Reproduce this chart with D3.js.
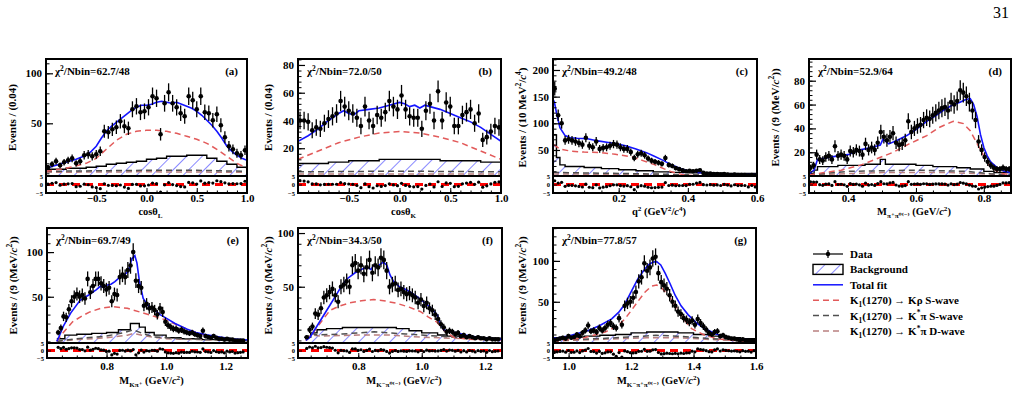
<!DOCTYPE html>
<html>
<head>
<meta charset="utf-8">
<script src="https://cdn.jsdelivr.net/npm/d3@7"></script>
<style>
  body { margin: 0; background: #fff; }
  svg text { font-family: "Liberation Serif", "Tinos", "Times New Roman", "Times", "Nimbus Roman", "DejaVu Serif", serif; font-weight: bold; }
</style>
</head>
<body>
<svg id="fig" width="1018" height="404"></svg>
<script>
// ---- data ----
// bin layout (first bin centre, bin width) for panels a..g
let firstBin = [-0.98, -0.98, 0.015, 0.2895, 0.6375, 0.6375, 0.9545]
let binWidth = [0.04, 0.04, 0.01, 0.009, 0.009, 0.009, 0.009]

let aCounts = [6,9,12,8,11,13,15,10,12,18, 19,17,19,22,42,41,44,46,52,47, 45,64,67,61,62,66,77,75,39,70, 81,70,66,60,57,77,73,64,77,61, 60,53,59,48,36,27,24,20,18,23]
let bCounts = [40,40,39,33,35,34,38,41,43,45, 54,50,47,45,42,36,50,40,36,44, 42,46,54,50,48,58,48,43,42,42, 34,47,52,40,61,40,53,50,36,36, 44,46,48,38,45,26,28,32,36,35]
let cCounts = [165,115,100,68,70,68,66,63,60,73, 58,55,66,52,54,55,58,61,60,55, 52,52,46,35,42,44,40,34,30,28, 26,24,35,22,20,16,14,12,10,11, 10,11,12,7,6,6,5,5,4,5, 4,3,4,3,3,3,2,3,2]
let dCounts = [7,9,18,14,13,16,17,14,25,17, 18,17,14,21,20,22,21,18,27,22, 24,22,28,37,33,30,33,36,28,26, 27,30,46,37,40,42,43,47,49,48, 51,53,55,57,58,55,62,60,63,72, 70,67,62,55,47,29,22,16,12,9, 7,6,6,7,6,6]
let eCounts = [10,15,28,27,36,45,50,53,50,52, 48,70,55,62,70,70,65,62,58,60, 45,53,52,72,75,72,80,85,100,68, 62,60,40,42,37,38,35,30,37,33, 22,18,16,14,14,12,13,11,10,9, 10,8,7,6,12,6,5,4,6,4, 3,3,2,3,2,2,1,1,1,1]
let fCounts = [3,10,13,25,24,30,40,42,45,48, 42,36,50,52,55,50,70,72,65,70, 62,68,75,63,70,68,77,75,65,50, 52,53,47,48,45,43,44,42,40,35, 38,32,35,30,28,24,20,15,12,8, 9,8,6,7,4,5,3,4,3,2, 3,2,2,1,2,1,1,1]
let gCounts = [3,4,5,6,5,8,6,7,10,8, 12,15,21,14,15,13,18,15,18,22, 24,20,18,30,22,45,48,50,55,62, 75,80,97,88,92,103,105,85,74,70, 66,58,50,45,38,35,30,28,25,27, 22,29,24,20,16,12,10,13,14,8, 9,7,6,5,5,4,3,4,3,3, 2,3]

// total fit
let aFit = [[-1,5],[-0.9,8],[-0.8,11],[-0.7,14],[-0.6,18],[-0.55,22],[-0.5,27],[-0.45,35],[-0.4,42],[-0.35,47],[-0.3,51],[-0.25,55],[-0.2,59],[-0.15,63],[-0.1,66],[-0.05,68],[0,68],[0.05,69],[0.1,71],[0.15,72],[0.2,71],[0.25,70],[0.3,71],[0.35,69],[0.4,67],[0.45,65],[0.5,62],[0.55,58],[0.6,53],[0.65,48],[0.7,42],[0.75,35],[0.8,27],[0.85,22],[0.9,18],[0.95,15],[1,13]]
let bFit = [[-1,25],[-0.9,29],[-0.8,34],[-0.7,40],[-0.6,45],[-0.55,47],[-0.5,45],[-0.45,44],[-0.4,47],[-0.3,48],[-0.2,49],[-0.1,51],[0,53],[0.05,52],[0.1,50],[0.15,51],[0.2,49],[0.25,51],[0.3,50],[0.4,48],[0.5,45],[0.6,42],[0.7,39],[0.8,35],[0.9,30],[1,25]]
let cFit = [[0.01,145],[0.014,140],[0.02,120],[0.03,92],[0.045,77],[0.06,73],[0.08,72],[0.11,71],[0.14,67],[0.17,64],[0.19,62],[0.22,58],[0.25,52],[0.28,45],[0.3,39],[0.33,30],[0.35,23],[0.38,15],[0.4,11],[0.43,8],[0.47,6],[0.5,5],[0.55,4],[0.6,4]]
let dFit = [[0.285,2],[0.3,5],[0.31,14],[0.33,15],[0.37,17],[0.4,18],[0.435,22],[0.47,24],[0.495,26],[0.503,31],[0.52,27],[0.545,30],[0.573,34],[0.6,39],[0.632,46],[0.66,51],[0.68,55],[0.71,60],[0.73,62],[0.745,64],[0.76,65],[0.77,60],[0.78,50],[0.79,35],[0.8,24],[0.81,17],[0.82,12],[0.84,7],[0.86,4],[0.88,3]]
let eFit = [[0.633,0],[0.64,5],[0.655,17],[0.68,32],[0.711,46],[0.74,52],[0.766,58],[0.78,62],[0.79,60],[0.8,63],[0.815,64],[0.828,67],[0.845,72],[0.856,74],[0.873,78],[0.884,92],[0.895,96],[0.902,88],[0.91,68],[0.923,48],[0.94,40],[0.957,36],[0.98,30],[1.0,26],[1.03,20],[1.069,14],[1.1,10],[1.136,7.5],[1.18,5],[1.22,3],[1.275,1.5]]
let fFit = [[0.635,0],[0.648,3],[0.669,13],[0.69,23],[0.711,33],[0.74,47],[0.763,57],[0.79,63],[0.816,67],[0.83,68],[0.84,66],[0.848,70],[0.86,69],[0.879,73],[0.89,70],[0.9,61],[0.911,55],[0.93,50],[0.953,47],[0.98,42],[1.006,36],[1.03,30],[1.048,24],[1.06,15],[1.069,10],[1.09,8],[1.11,7],[1.15,4],[1.194,2.5],[1.253,1]]
let gFit = [[0.95,5],[1.0,8],[1.063,15],[1.1,21],[1.138,29],[1.16,37],[1.18,47],[1.2,62],[1.223,79],[1.24,88],[1.255,95],[1.27,98.5],[1.282,99],[1.295,95],[1.309,85],[1.325,72],[1.341,58],[1.36,45],[1.383,34],[1.41,24],[1.437,17],[1.47,11],[1.5,7],[1.55,4.5],[1.6,3]]

// K1(1270) -> K rho S-wave
let aKrho = [[-1,2],[-0.8,5],[-0.6,10],[-0.5,15],[-0.4,24],[-0.3,33],[-0.2,39],[-0.1,42],[0,43],[0.1,43],[0.2,42],[0.3,40],[0.4,37],[0.5,34],[0.6,30],[0.7,24],[0.8,17],[0.9,10],[1,5]]
let bKrho = [[-1,12],[-0.8,18],[-0.6,24],[-0.4,28],[-0.2,31],[0,32],[0.2,31],[0.4,28],[0.6,24],[0.8,18],[1,12]]
let cKrho = [[0.012,60],[0.03,52],[0.06,48],[0.1,46],[0.15,45],[0.19,42],[0.24,37],[0.27,30],[0.305,22],[0.33,15],[0.353,9],[0.39,3],[0.43,1],[0.5,0.5],[0.6,0.3]]
let dKrho = [[0.285,1],[0.33,3],[0.38,5],[0.435,9],[0.48,14],[0.533,20],[0.58,27],[0.632,34],[0.67,41],[0.71,46],[0.74,44],[0.76,38],[0.79,22],[0.818,8],[0.847,2.5],[0.88,1]]
let eKrho = [[0.633,0],[0.65,8],[0.686,22],[0.72,29],[0.744,33],[0.78,37],[0.822,39],[0.87,37],[0.911,33],[0.96,28],[1.0,24],[1.04,18],[1.078,12.5],[1.12,8],[1.158,5],[1.2,3],[1.275,1]]
let fKrho = [[0.635,0],[0.66,8],[0.69,20],[0.711,28],[0.74,32],[0.774,35],[0.81,37],[0.848,38],[0.88,37],[0.922,34.5],[0.96,31],[0.995,27],[1.02,22],[1.048,17],[1.075,8],[1.1,3],[1.15,1],[1.253,0.5]]
let gKrho = [[0.95,1.5],[1.05,6],[1.117,13],[1.159,21],[1.18,29],[1.202,40],[1.225,52],[1.245,62],[1.265,69],[1.282,70.5],[1.3,66],[1.319,58],[1.335,49],[1.351,40],[1.37,28],[1.394,17],[1.437,9],[1.48,4.5],[1.55,2],[1.6,1.5]]

// K1(1270) -> K* pi S-wave
let aKstS = [[-1,2],[0,3],[0.5,3],[1,2]]
let bKstS = [[-1,3],[0,3.5],[1,3]]
let cKstS = [[0.01,8],[0.1,7],[0.3,5],[0.45,3],[0.6,2]]
let dKstS = [[0.285,1],[0.4,4],[0.6,5],[0.75,4],[0.82,2],[0.88,1]]
let eKstS = [[0.633,0],[0.7,3],[0.8,6],[0.86,10],[0.89,13],[0.92,9],[0.96,5],[1.05,3],[1.15,2],[1.275,1]]
let fKstS = [[0.635,0],[0.65,7],[0.67,5],[0.75,6],[0.85,8],[0.95,6],[1.05,4],[1.1,3],[1.253,2]]
let gKstS = [[0.95,3],[1.1,5],[1.2,7],[1.28,9],[1.35,8],[1.45,5],[1.6,3]]

// K1(1270) -> K* pi D-wave
let aKstD = [[-1,1],[0,1.5],[1,1]]
let bKstD = [[-1,1.5],[1,1.5]]
let cKstD = [[0.01,5],[0.3,4],[0.6,2]]
let dKstD = [[0.285,1],[0.5,3],[0.7,3],[0.88,1]]
let eKstD = [[0.633,0],[0.7,2],[0.8,4],[0.87,7],[0.89,9],[0.93,6],[1.0,3],[1.1,2],[1.275,1]]
let fKstD = [[0.635,0],[0.655,5],[0.68,4],[0.8,5],[0.9,5],[1.0,3],[1.1,2],[1.253,1]]
let gKstD = [[0.95,2],[1.1,4],[1.25,6],[1.35,6],[1.5,3],[1.6,2]]

// background histogram: [low edge, content], last entry = upper edge
let aBkg = [[-1,4],[-0.9,4],[-0.8,5],[-0.7,5],[-0.6,6],[-0.5,7],[-0.4,9],[-0.3,10],[-0.2,11],[-0.1,12],[0,14],[0.1,15],[0.2,17],[0.3,17],[0.4,18],[0.5,18],[0.6,15],[0.7,12],[0.8,9],[0.9,6],[1,6]]
let bBkg = [[-1,9],[-0.9,9],[-0.8,9],[-0.7,10],[-0.6,10],[-0.5,11],[-0.4,11],[-0.3,11],[-0.2,12],[-0.1,12],[0,12],[0.1,12],[0.2,12],[0.3,12],[0.4,11],[0.5,11],[0.6,11],[0.7,11],[0.8,10],[0.9,10],[1,10]]
let cBkg = [[0.01,78],[0.02,36],[0.03,22],[0.045,19],[0.1,17],[0.15,15],[0.2,13],[0.25,11],[0.3,9],[0.35,8],[0.4,7],[0.5,6],[0.6,6]]
let dBkg = [[0.285,2],[0.3,5],[0.31,8],[0.37,9],[0.45,10],[0.495,14],[0.51,10],[0.6,9],[0.65,8],[0.72,7],[0.76,6],[0.8,4],[0.83,3],[0.88,3]]
let eBkg = [[0.633,3],[0.66,7],[0.7,8],[0.75,9],[0.8,10],[0.84,13],[0.88,20],[0.91,16],[0.93,10],[0.96,7],[1.0,4],[1.05,3],[1.12,2],[1.2,1],[1.275,1]]
let fBkg = [[0.63,3],[0.65,7],[0.67,10],[0.7,11],[0.75,12],[0.82,12],[0.92,11],[0.96,9],[1.0,7],[1.05,5],[1.08,4],[1.12,3],[1.17,2],[1.253,2]]
let gBkg = [[0.95,6],[1.0,7],[1.05,8],[1.1,9],[1.15,10],[1.2,12],[1.25,13],[1.3,13],[1.35,12],[1.4,10],[1.45,8],[1.5,6],[1.55,5],[1.6,5]]

let chiValues = ["62.7/48", "72.0/50", "49.2/48", "52.9/64", "69.7/49", "34.3/50", "77.8/57"]
let panelTags = ["(a)", "(b)", "(c)", "(d)", "(e)", "(f)", "(g)"]

let yMajor = [[50,100],[20,40,60,80],[50,100,150,200],[20,40,60,80],[50,100],[50,100],[50,100]]
let yMinorStep = [10, 4, 10, 4, 10, 10, 10]
let xMajor = [[-0.5,0,0.5,1],[-0.5,0,0.5,1],[0.2,0.4,0.6],[0.4,0.6,0.8],[0.8,1.0,1.2],[0.8,1.0,1.2],[1.0,1.2,1.4,1.6]]
let xMinorStep = [0.1, 0.1, 0.05, 0.05, 0.05, 0.05, 0.05]

// rich text parts: string = normal, [text, shift(1 sup / -1 sub), italic]
let cI = ["c", 0, true]
let evNine = ["Events / (9 (MeV/", cI, ["2",1], "))"]
let yTitles = [
  ["Events / (0.04)"],
  ["Events / (0.04)"],
  ["Events / (10 MeV", ["2",1], "/", cI, ["4",1], ")"],
  evNine, evNine, evNine, evNine
]
let xTitles = [
  ["cosθ", ["L",-1]],
  ["cosθ", ["K",-1]],
  ["q", ["2",1], " (GeV", ["2",1], "/", cI, ["4",1], ")"],
  ["M", ["π⁺π⁰⁽⁻⁾",-1], " (GeV/", cI, ["2",1], ")"],
  ["M", ["Kπ⁺",-1], " (GeV/", cI, ["2",1], ")"],
  ["M", ["K⁻π⁰⁽⁻⁾",-1], " (GeV/", cI, ["2",1], ")"],
  ["M", ["K⁻π⁺π⁰⁽⁻⁾",-1], " (GeV/", cI, ["2",1], ")"]
]
let legendLabels = [
  ["Data"],
  ["Background"],
  ["Total fit"],
  ["K", ["1",-1], "(1270) → Kρ S-wave"],
  ["K", ["1",-1], "(1270) → K", ["*",1], "π S-wave"],
  ["K", ["1",-1], "(1270) → K", ["*",1], "π D-wave"]
]

let countSets = [aCounts, bCounts, cCounts, dCounts, eCounts, fCounts, gCounts]
let fitSets = [aFit, bFit, cFit, dFit, eFit, fFit, gFit]
let krhoSets = [aKrho, bKrho, cKrho, dKrho, eKrho, fKrho, gKrho]
let kstSSets = [aKstS, bKstS, cKstS, dKstS, eKstS, fKstS, gKstS]
let kstDSets = [aKstD, bKstD, cKstD, dKstD, eKstD, fKstD, gKstD]
let bkgSets = [aBkg, bBkg, cBkg, dBkg, eBkg, fBkg, gBkg]

// ---- layout ----
let layout = [
  { left: 46,  right: 247,  top: 59,  bottom: 176, res: 193, xDom: [-1, 1],        yDom: [-2.7, 114.3], yTitleX: 12,  tickPad: 1, titleDy: 22 },
  { left: 298, right: 501,  top: 59,  bottom: 176, res: 193, xDom: [-1, 1],        yDom: [0, 84.3],     yTitleX: 268, tickPad: 1, titleDy: 22 },
  { left: 553, right: 757,  top: 59,  bottom: 176, res: 193, xDom: [0.01, 0.6],    yDom: [1.2, 220.6],  yTitleX: 522, tickPad: 1, titleDy: 22 },
  { left: 809, right: 1011, top: 59,  bottom: 176, res: 193, xDom: [0.285, 0.88],  yDom: [0.1, 98.2],   yTitleX: 775, tickPad: 1, titleDy: 22 },
  { left: 47,  right: 248,  top: 228, bottom: 343, res: 358, xDom: [0.6, 1.275],   yDom: [-1.8, 127],   yTitleX: 13,  tickPad: 4, titleDy: 26 },
  { left: 298, right: 502,  top: 228, bottom: 343, res: 358, xDom: [0.61, 1.253],  yDom: [-2.4, 104.7], yTitleX: 268, tickPad: 4, titleDy: 26 },
  { left: 553, right: 756,  top: 228, bottom: 343, res: 358, xDom: [0.95, 1.6],    yDom: [-0.4, 140.2], yTitleX: 522, tickPad: 4, titleDy: 26 }
]

let blue = "#1414ff", red = "#e25a5a", grey = "#505050", rose = "#b98080"

let svg = d3.select("#fig")
let defs = svg.append("defs")

defs.append("pattern")
  .attr("id", "hatch").attr("patternUnits", "userSpaceOnUse")
  .attr("width", 11).attr("height", 11).attr("patternTransform", "rotate(45)")
  .append("line").attr("x1", 0).attr("y1", 0).attr("x2", 0).attr("y2", 11)
  .attr("stroke", blue).attr("stroke-width", 1)

function rich (textSel, parts, fs) {
  let off = 0
  parts.forEach(p => {
    let [t, s, it] = typeof p === "string" ? [p, 0, false] : p
    let target = s === 1 ? -fs * 0.38 : s === -1 ? fs * 0.28 : 0
    textSel.append("tspan")
      .attr("dy", target - off)
      .attr("font-size", s ? fs * 0.68 : fs)
      .attr("font-style", it ? "italic" : null)
      .text(t)
    off = target
  })
  return textSel
}

function fitAt (curve, xv) {
  let i = d3.bisector(d => d[0]).left(curve, xv)
  if (i <= 0) return curve[0][1]
  if (i >= curve.length) return curve[curve.length - 1][1]
  let [x0, y0] = curve[i - 1], [x1, y1] = curve[i]
  return y0 + (y1 - y0) * (xv - x0) / (x1 - x0)
}

layout.forEach((L, k) => drawPanel(L, k))

function drawPanel (L, k) {
  let x = d3.scaleLinear().domain(L.xDom).range([L.left, L.right])
  let y = d3.scaleLinear().domain(L.yDom).range([L.bottom, L.top])
  let yr = d3.scaleLinear().domain([-5, 5]).range([L.res, L.bottom])
  let g = svg.append("g")

  defs.append("clipPath").attr("id", "clip" + k)
    .append("rect").attr("x", L.left).attr("y", L.top)
    .attr("width", L.right - L.left).attr("height", L.bottom - L.top)
  defs.append("clipPath").attr("id", "rclip" + k)
    .append("rect").attr("x", L.left).attr("y", L.bottom)
    .attr("width", L.right - L.left).attr("height", L.res - L.bottom)

  let plot = g.append("g").attr("clip-path", `url(#clip${k})`)

  // background (hatched step histogram)
  let bkg = bkgSets[k]
  plot.append("path").datum(bkg)
    .attr("fill", "url(#hatch)")
    .attr("d", d3.area().curve(d3.curveStepAfter).x(d => x(d[0])).y0(L.bottom).y1(d => y(d[1])))
  plot.append("path").datum(bkg)
    .attr("fill", "none").attr("stroke", "#000").attr("stroke-width", 1.4)
    .attr("d", d3.line().curve(d3.curveStepAfter).x(d => x(d[0])).y(d => y(d[1])))

  let line = d3.line().x(d => x(d[0])).y(d => y(d[1]))
  let comps = [
    { d: kstDSets[k], c: rose },
    { d: kstSSets[k], c: grey },
    { d: krhoSets[k], c: red }
  ]
  comps.forEach(cp => {
    plot.append("path").datum(cp.d)
      .attr("fill", "none").attr("stroke", cp.c).attr("stroke-width", 1.5)
      .attr("stroke-dasharray", "6,4").attr("d", line)
  })

  plot.append("path").datum(fitSets[k])
    .attr("fill", "none").attr("stroke", blue).attr("stroke-width", 1.6).attr("d", line)

  // data points
  let pts = countSets[k].map((n, i) => ({ x: firstBin[k] + i * binWidth[k], n }))
  let dg = plot.append("g")
  dg.selectAll("line").data(pts).enter().append("line")
    .attr("x1", d => x(d.x)).attr("x2", d => x(d.x))
    .attr("y1", d => y(d.n - Math.sqrt(d.n))).attr("y2", d => y(d.n + Math.sqrt(d.n)))
    .attr("stroke", "#000").attr("stroke-width", 1.3)
  dg.selectAll("circle").data(pts).enter().append("circle")
    .attr("cx", d => x(d.x)).attr("cy", d => y(d.n)).attr("r", 2.3).attr("fill", "#000")

  // residual pad
  let rp = g.append("g").attr("clip-path", `url(#rclip${k})`)
  rp.append("line").attr("x1", L.left).attr("x2", L.right)
    .attr("y1", yr(0)).attr("y2", yr(0))
    .attr("stroke", "#ff0000").attr("stroke-width", 3).attr("stroke-dasharray", "8,5")
  rp.selectAll("circle").data(pts).enter().append("circle")
    .attr("cx", d => x(d.x))
    .attr("cy", d => {
      let pull = (d.n - fitAt(fitSets[k], d.x)) / Math.sqrt(Math.max(d.n, 1))
      return yr(Math.max(-4.5, Math.min(4.5, pull)))
    })
    .attr("r", 1.6).attr("fill", "#000")

  // frames
  g.append("rect").attr("x", L.left).attr("y", L.top)
    .attr("width", L.right - L.left).attr("height", L.bottom - L.top)
    .attr("fill", "none").attr("stroke", "#000").attr("stroke-width", 2)
  g.append("rect").attr("x", L.left).attr("y", L.bottom)
    .attr("width", L.right - L.left).attr("height", L.res - L.bottom)
    .attr("fill", "none").attr("stroke", "#000").attr("stroke-width", 2)

  // y axis (ticks inside)
  let yMinor = d3.range(0, L.yDom[1], yMinorStep[k]).filter(v => v > L.yDom[0])
  g.append("g").attr("transform", `translate(${L.left},0)`)
    .call(d3.axisLeft(y).tickValues(yMinor).tickSize(-3.5).tickFormat(""))
    .call(a => a.select(".domain").remove())
  let ya = g.append("g").attr("transform", `translate(${L.left},0)`)
    .call(d3.axisLeft(y).tickValues(yMajor[k]).tickSize(-7).tickPadding(4).tickFormat(d3.format("d")))
    .attr("font-size", 11).attr("font-family", null)
  ya.select(".domain").remove()
  ya.selectAll("line").attr("stroke-width", 1.2)

  // residual y axis
  let ra = g.append("g").attr("transform", `translate(${L.left},0)`)
    .call(d3.axisLeft(yr).tickValues([-5, 0, 5]).tickSize(-4).tickPadding(3).tickFormat(d3.format("d")))
    .attr("font-size", 6.5).attr("font-family", null)
  ra.select(".domain").remove()

  // x axis on residual pad
  let xMinor = d3.range(Math.ceil(L.xDom[0] / xMinorStep[k]) * xMinorStep[k], L.xDom[1] + 1e-9, xMinorStep[k])
  g.append("g").attr("transform", `translate(0,${L.res})`)
    .call(d3.axisBottom(x).tickValues(xMinor).tickSize(-2.5).tickFormat(""))
    .call(a => a.select(".domain").remove())
  let xa = g.append("g").attr("transform", `translate(0,${L.res})`)
    .call(d3.axisBottom(x).tickValues(xMajor[k]).tickSize(-5).tickPadding(L.tickPad).tickFormat(d3.format(".1f")))
    .attr("font-size", 11).attr("font-family", null)
  xa.select(".domain").remove()
  xa.selectAll("text").text(d => d3.format(".1f")(d).replace("-", "−"))

  // titles
  rich(g.append("text")
    .attr("x", (L.left + L.right) / 2 + 4).attr("y", L.res + L.titleDy)
    .attr("text-anchor", "middle").attr("font-size", 10.5), xTitles[k], 10.5)

  rich(g.append("text")
    .attr("transform", `translate(${L.yTitleX},${(L.top + L.bottom) / 2}) rotate(-90)`)
    .attr("text-anchor", "middle").attr("dominant-baseline", "central").attr("font-size", 11), yTitles[k], 11)

  rich(g.append("text")
    .attr("x", L.left + 9).attr("y", L.top + 16).attr("font-size", 11),
    ["χ", ["2", 1], "/Nbin=" + chiValues[k]], 11)

  g.append("text").attr("x", L.right - 9).attr("y", L.top + 16)
    .attr("text-anchor", "end").attr("font-size", 11).text(panelTags[k])
}

// ---- legend ----
let leg = svg.append("g")
let legX0 = 813, legX1 = 843, legText = 850
let legY = d3.scalePoint().domain(d3.range(legendLabels.length)).range([254, 331])

legendLabels.forEach((lab, i) => {
  let yy = legY(i)
  if (i === 0) {
    leg.append("line").attr("x1", legX0).attr("x2", legX1).attr("y1", yy).attr("y2", yy).attr("stroke", "#000").attr("stroke-width", 1.2)
    leg.append("line").attr("x1", (legX0 + legX1) / 2).attr("x2", (legX0 + legX1) / 2).attr("y1", yy - 4).attr("y2", yy + 4).attr("stroke", "#000").attr("stroke-width", 1.2)
    leg.append("circle").attr("cx", (legX0 + legX1) / 2).attr("cy", yy).attr("r", 2.2).attr("fill", "#000")
  } else if (i === 1) {
    leg.append("rect").attr("x", legX0).attr("y", yy - 5).attr("width", legX1 - legX0).attr("height", 10)
      .attr("fill", "url(#hatch)").attr("stroke", "#000").attr("stroke-width", 1.4)
  } else {
    let col = [null, null, blue, red, grey, rose][i]
    leg.append("line").attr("x1", legX0).attr("x2", legX1).attr("y1", yy).attr("y2", yy)
      .attr("stroke", col).attr("stroke-width", 1.5)
      .attr("stroke-dasharray", i > 2 ? "6,4" : null)
  }
  rich(leg.append("text").attr("x", legText).attr("y", yy + 4).attr("font-size", 11), lab, 11)
})

// page number
svg.append("text").attr("x", 1001).attr("y", 18).attr("text-anchor", "middle")
  .attr("font-size", 16).style("font-weight", "normal").text("31")
</script>
</body>
</html>
